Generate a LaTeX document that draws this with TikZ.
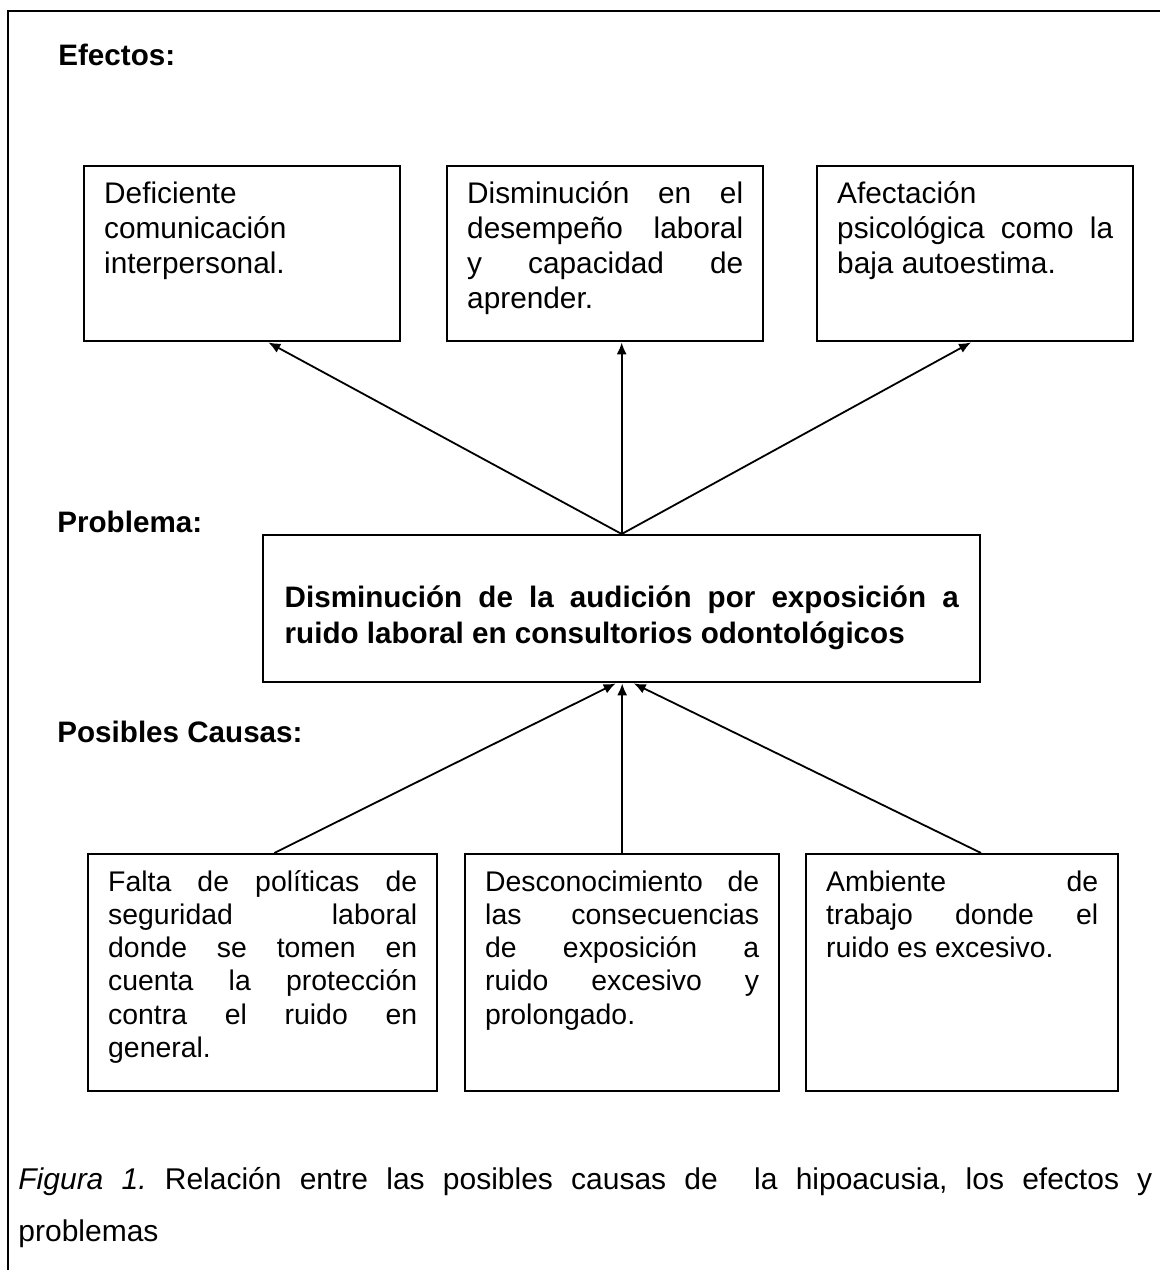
\documentclass[tikz,border=0pt]{standalone}
\usepackage{fontspec}
\setmainfont{Liberation Sans}
\usetikzlibrary{arrows.meta,calc}
\frenchspacing

\newcommand{\jl}[1]{\makebox[\linewidth][s]{#1}}
\newcommand{\boxfont}{\fontsize{14.9pt}{17.5pt}\selectfont}
\newcommand{\causefont}{\fontsize{14.2pt}{16.6pt}\selectfont}
\newcommand{\labelfont}{\fontsize{14.8pt}{16pt}\selectfont\bfseries}
\newcommand{\probfont}{\fontsize{14.8pt}{18pt}\selectfont\bfseries}
\newcommand{\capfont}{\fontsize{15pt}{18pt}\selectfont}

\begin{document}
\begin{tikzpicture}[x=0.5pt,y=-0.5pt]
	\tikzstyle{effectbox}=[draw,line width=1.2pt,anchor=north west,inner xsep=10pt,inner ysep=0pt,font=\boxfont,text height=18.5pt,text depth=69pt]
	\tikzstyle{causebox}=[draw,line width=1.2pt,anchor=north west,inner xsep=10pt,inner ysep=0pt,font=\causefont,text height=18.5pt,text depth=100pt]
	\tikzstyle{probbox}=[draw,line width=1.2pt,anchor=north west,inner xsep=10.75pt,inner ysep=0pt,font=\probfont,text height=36pt,text depth=37.5pt]
	\tikzstyle{heading}=[anchor=base west,inner sep=0pt,font=\labelfont]
	\tikzstyle{figcap}=[anchor=base west,inner sep=0pt,font=\capfont]
	\tikzstyle{link}=[line width=0.9pt,-{Latex[length=6pt,width=5pt]}]
	\useasboundingbox (0,0) rectangle (1160,1270);
	\draw[line width=1.35pt] (8,1270) -- (8,11) -- (1160,11);
	\node[heading] (efectos) at (58,65) {Efectos:};
	\node[heading] (problema) at (57,532) {Problema:};
	\node[heading] (causas) at (57,742) {Posibles Causas:};
	\node[effectbox] (e1) at (83,165) {\parbox[t]{138pt}{Deficiente\\comunicación\\interpersonal.}};
	\node[effectbox] (e2) at (446,165) {\parbox[t]{138pt}{\jl{Disminución en el}\\\jl{desempeño laboral}\\\jl{y capacidad de}\\aprender.}};
	\node[effectbox] (e3) at (816,165) {\parbox[t]{138pt}{Afectación\\\jl{psicológica como la}\\baja autoestima.}};
	\node[probbox] (prob) at (262,534) {\parbox[t]{337pt}{\jl{Disminución de la audición por exposición a}\\ruido laboral en consultorios odontológicos}};
	\node[causebox] (c1) at (87,853) {\parbox[t]{154.5pt}{\jl{Falta de políticas de}\\\jl{seguridad laboral}\\\jl{donde se tomen en}\\\jl{cuenta la protección}\\\jl{contra el ruido en}\\general.}};
	\node[causebox] (c2) at (464,853) {\parbox[t]{137pt}{\jl{Desconocimiento de}\\\jl{las consecuencias}\\\jl{de exposición a}\\\jl{ruido excesivo y}\\prolongado.}};
	\node[causebox] (c3) at (805,853) {\parbox[t]{136pt}{\jl{Ambiente de}\\\jl{trabajo donde el}\\ruido es excesivo.}};
	\draw[link] (prob.north) -- ($(e1.south west)!0.582!(e1.south east)$);
	\draw[link] (prob.north) -- (prob.north |- e2.south);
	\draw[link] (prob.north) -- ($(e3.south west)!0.487!(e3.south east)$);
	\draw[link] ($(c1.north west)!0.533!(c1.north east)$) -- ($(prob.south)+(-6,0)$);
	\draw[link] (c2.north) -- (c2.north |- prob.south);
	\draw[link] ($(c3.north west)!0.56!(c3.north east)$) -- ($(prob.south)+(12,0)$);
	\node[figcap] (cap1) at (18,1189) {\makebox[567pt][s]{\textit{Figura 1.} Relación entre las posibles causas de \ la hipoacusia, los efectos y}};
	\node[figcap] (cap2) at (18,1241) {problemas};
\end{tikzpicture}
\end{document}
